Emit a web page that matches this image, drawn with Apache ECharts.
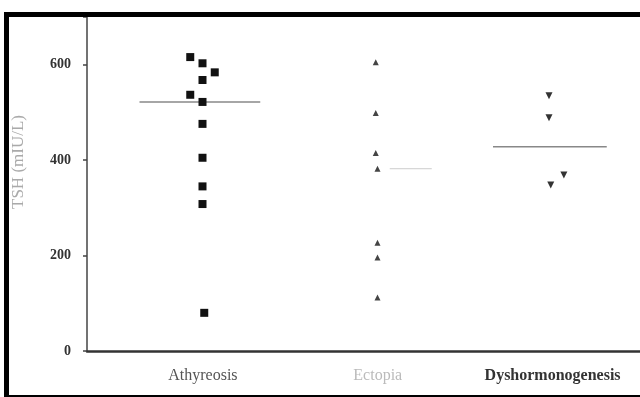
<!DOCTYPE html>
<html>
<head>
<meta charset="utf-8">
<script src="https://cdn.jsdelivr.net/npm/echarts@6/dist/echarts.min.js"></script>
<style>
html,body{margin:0;padding:0;background:#fff;}
#chart{width:640px;height:397px;}
</style>
</head>
<body>
<div id="chart"></div>
<script>
// Categories and tick labels
const categories = ['Athyreosis', 'Ectopia', 'Dyshormonogenesis'];
const yTicks = [0, 200, 400, 600];

// Group positions (jittered x, in category units) and TSH values
const athyreosisX = [0.93, 1.0, 1.07, 1.0, 0.93, 1.0, 1.0, 1.0, 1.0, 1.0, 1.01];
const athyreosisY = [616, 603, 584, 568, 537, 522, 476, 405, 345, 308, 80];
const ectopiaX = [1.99, 1.99, 1.99, 2.0, 2.0, 2.0, 2.0];
const ectopiaY = [605, 499, 415, 382, 227, 196, 112];
const dyshX = [2.98, 2.98, 3.065, 2.99];
const dyshY = [535, 489, 369, 348];

// Median lines: [xStart, xEnd, value]
const athyreosisMedian = [0.64, 1.33, 522];
const ectopiaMedian = [2.07, 2.31, 382];
const dyshMedian = [2.66, 3.31, 428];

function pts(xs, ys) { return xs.map((x, i) => [x, ys[i]]); }
function seg(m) { return [[m[0], m[2]], [m[1], m[2]]]; }

const chart = echarts.init(document.getElementById('chart'));
chart.setOption({
  animation: false,
  backgroundColor: '#fff',
  grid: [
    { left: 87, right: 0, top: 17, bottom: 46 },
    { left: 115.5, right: -0.5, top: 17, bottom: 46 }
  ],
  xAxis: [
    {
      gridIndex: 0, type: 'value', min: 0.34, max: 3.5,
      axisLine: { show: true, lineStyle: { color: '#333', width: 2.5 } },
      axisTick: { show: false }, axisLabel: { show: false }, splitLine: { show: false }
    },
    {
      gridIndex: 1, type: 'category', data: categories, boundaryGap: true,
      axisLine: { show: false }, axisTick: { show: false }, splitLine: { show: false },
      axisLabel: {
        interval: 0, margin: 17,
        fontFamily: 'Liberation Serif', fontSize: 16,
        formatter: function (v, i) { return '{c' + i + '|' + v + '}'; },
        rich: {
          c0: { color: '#555', fontFamily: 'Liberation Serif', fontSize: 16 },
          c1: { color: '#bbb', fontFamily: 'Liberation Serif', fontSize: 16 },
          c2: { color: '#333', fontFamily: 'Liberation Serif', fontSize: 16, fontWeight: 'bold' }
        }
      }
    }
  ],
  yAxis: [
    {
      gridIndex: 0, type: 'value', min: 0, max: 700, interval: 200,
      name: 'TSH (mIU/L)', nameLocation: 'middle', nameGap: 60,
      nameTextStyle: { color: '#aaa', fontFamily: 'Liberation Serif', fontSize: 17, padding: [0, 0, 0, 44] },
      axisLine: { show: true, lineStyle: { color: '#444', width: 1.5 } },
      axisTick: { show: true, length: 4, lineStyle: { color: '#444', width: 1.5 } },
      axisLabel: {
        margin: 16, color: '#333', fontFamily: 'Liberation Serif', fontSize: 14, fontWeight: 'bold',
        formatter: function (v) { return yTicks.indexOf(v) >= 0 ? String(v) : ''; }
      },
      splitLine: { show: false }
    },
    { gridIndex: 1, type: 'value', min: 0, max: 700, show: false }
  ],
  graphic: [
    {
      type: 'rect', silent: true, z: 100,
      shape: { x: 6.5, y: 14.5, width: 700, height: 383 },
      style: { fill: 'none', stroke: '#000', lineWidth: 5 }
    }
  ],
  series: [
    {
      type: 'line', xAxisIndex: 0, yAxisIndex: 0, data: seg(athyreosisMedian),
      symbol: 'none', lineStyle: { color: '#888', width: 1.5 }, z: 1
    },
    {
      type: 'line', xAxisIndex: 0, yAxisIndex: 0, data: seg(ectopiaMedian),
      symbol: 'none', lineStyle: { color: '#ccc', width: 1 }, z: 1
    },
    {
      type: 'line', xAxisIndex: 0, yAxisIndex: 0, data: seg(dyshMedian),
      symbol: 'none', lineStyle: { color: '#888', width: 1.5 }, z: 1
    },
    {
      type: 'scatter', xAxisIndex: 0, yAxisIndex: 0, data: pts(athyreosisX, athyreosisY),
      symbol: 'rect', symbolSize: 8, itemStyle: { color: '#111', opacity: 1 }, z: 3
    },
    {
      type: 'scatter', xAxisIndex: 0, yAxisIndex: 0, data: pts(ectopiaX, ectopiaY),
      symbol: 'triangle', symbolSize: 6, itemStyle: { color: '#444', opacity: 1 }, z: 3
    },
    {
      type: 'scatter', xAxisIndex: 0, yAxisIndex: 0, data: pts(dyshX, dyshY),
      symbol: 'triangle', symbolRotate: 180, symbolSize: 7, itemStyle: { color: '#333', opacity: 1 }, z: 3
    }
  ]
});
</script>
</body>
</html>
